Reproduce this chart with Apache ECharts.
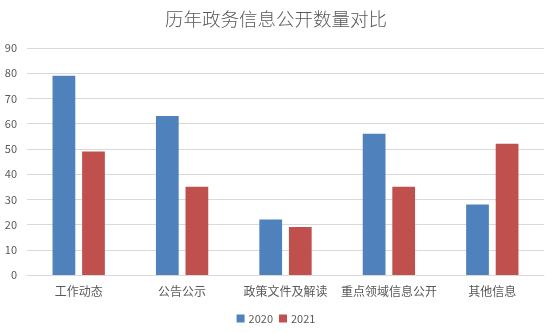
<!DOCTYPE html>
<html><head><meta charset="utf-8">
<script src="https://cdn.jsdelivr.net/npm/echarts@6/dist/echarts.min.js"></script>
<style>html,body{margin:0;padding:0;background:#fff}#c{width:552px;height:333px}</style>
</head><body><div id="c"></div>
<script>
var categories = ['工作动态', '公告公示', '政策文件及解读', '重点领域信息公开', '其他信息'];
var seriesNames = ['2020', '2021'];
var values2020 = [79, 63, 22, 56, 28];
var values2021 = [49, 35, 19, 35, 52];
var yTicks = [0, 10, 20, 30, 40, 50, 60, 70, 80, 90];

var font = '"Noto Sans CJK SC", "Noto Sans", sans-serif';
var chart = echarts.init(document.getElementById('c'), null, {renderer: 'canvas'});
chart.setOption({
  animation: false,
  backgroundColor: '#fff',
  title: {
    text: '历年政务信息公开数量对比',
    left: 'center', top: 5,
    textStyle: {fontFamily: font, fontSize: 18.5, fontWeight: 300, color: '#595959'}
  },
  legend: {
    data: seriesNames,
    bottom: 4, left: 'center',
    itemWidth: 8, itemHeight: 8, itemGap: 6,
    icon: 'rect',
    textStyle: {fontFamily: font, fontSize: 11, color: '#595959', padding: [0, 0, 0, -1]}
  },
  grid: {left: 27, right: 8, top: 48, bottom: 58, containLabel: false},
  xAxis: {
    type: 'category',
    data: categories,
    axisLine: {lineStyle: {color: '#d9d9d9', width: 1}},
    axisTick: {show: false},
    axisLabel: {fontFamily: font, fontSize: 12, color: '#595959', margin: 10, interval: 0}
  },
  yAxis: {
    type: 'value',
    min: yTicks[0], max: yTicks[yTicks.length - 1], interval: 10,
    axisLine: {show: false},
    axisTick: {show: false},
    splitLine: {lineStyle: {color: '#d9d9d9', width: 1}},
    axisLabel: {fontFamily: font, fontSize: 11, color: '#595959', margin: 10}
  },
  series: [
    {name: seriesNames[0], type: 'bar', data: values2020, barWidth: '22%', barGap: '30%',
     itemStyle: {color: '#4F81BD'}},
    {name: seriesNames[1], type: 'bar', data: values2021, barWidth: '22%', barGap: '30%',
     itemStyle: {color: '#C0504D'}}
  ]
});
</script></body></html>
